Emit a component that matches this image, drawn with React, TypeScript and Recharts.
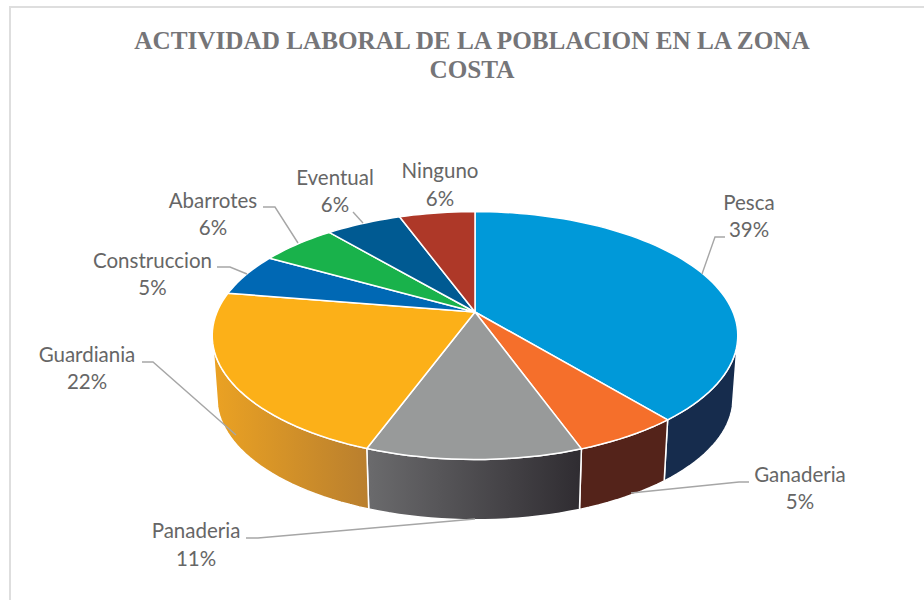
import { PieChart, Pie } from "recharts";

const categories = ["Pesca", "Ganaderia", "Panaderia", "Guardiania", "Construccion", "Abarrotes", "Eventual", "Ninguno"];
const values = [39, 5.5, 11.1, 22, 5.6, 5.6, 5.6, 5.6];
const percentLabels = ["39%", "5%", "11%", "22%", "5%", "6%", "6%", "6%"];
const titleLines = ["ACTIVIDAD LABORAL DE LA POBLACION EN LA ZONA", "COSTA"];

const topColors = ["#0099d9", "#f56f2b", "#989a9a", "#fcb018", "#0068b4", "#19b24b", "#005a92", "#ae3828"];
const wallColors = [
  ["#162c4d", "#162c4d"],
  ["#54231a", "#54231a"],
  ["#6b6b6d", "#2f2c31"],
  ["#eba223", "#b97f2e"],
  ["#00497e", "#00497e"],
  ["#127d35", "#127d35"],
  ["#003f66", "#003f66"],
  ["#7a271c", "#7a271c"],
];

// label placement: text centre, first/second baseline, leader line
const labelLayout = [
  { x: 749, y1: 210, y2: 237, line: "702,274 715,237 725,237" },
  { x: 800, y1: 482, y2: 509, line: "749,482 739,482 631,493" },
  { x: 196, y1: 538, y2: 566, line: "246,538 258,538 475,519" },
  { x: 87, y1: 362, y2: 389, line: "142,362 153,362 236,435" },
  { x: 152.5, y1: 268, y2: 295, line: "217,267 230,267 247,274" },
  { x: 213, y1: 208, y2: 235, line: "263,207 275,207 298,243" },
  { x: 335, y1: 185, y2: 212, line: "353,212 363,223" },
  { x: 440, y1: 178, y2: 206, line: "" },
];

const data = categories.map((name, i) => ({ name, value: values[i] }));

// the 3D look: a circle in perspective, top edge further away than the bottom
const TILT = 0.463;
const PERSP = 0.19;
const DEPTH = 63;
const SHRINK = 0.982;

function rim(cx: number, cy: number, r: number, deg: number, bottom = false) {
  const t = (deg * Math.PI) / 180;
  const w = 1 + PERSP * Math.cos(t);
  const dx = (r * Math.sin(t)) / w;
  const dy = (-r * TILT * Math.cos(t)) / w;
  return bottom
    ? [cx + dx * SHRINK, cy + DEPTH + dy * SHRINK]
    : [cx + dx, cy + dy];
}

function arcPoints(cx: number, cy: number, r: number, from: number, to: number, bottom = false) {
  const n = Math.max(2, Math.ceil(Math.abs(to - from) / 2));
  const pts: number[][] = [];
  for (let i = 0; i <= n; i++) pts.push(rim(cx, cy, r, from + ((to - from) * i) / n, bottom));
  return pts;
}

const toPath = (pts: number[][]) =>
  "M" + pts.map((p) => `${p[0].toFixed(2)},${p[1].toFixed(2)}`).join("L") + "Z";

function TopSlice(props: any) {
  const { cx, cy, outerRadius, startAngle, endAngle, index } = props;
  const pts = [[cx, cy], ...arcPoints(cx, cy, outerRadius, 90 - startAngle, 90 - endAngle)];
  return <path d={toPath(pts)} fill={topColors[index]} stroke="#fff" strokeWidth={1.5} strokeLinejoin="round" />;
}

function WallSlice(props: any) {
  const { cx, cy, outerRadius, startAngle, endAngle, index } = props;
  const from = Math.max(90 - startAngle, 105);
  const to = Math.min(90 - endAngle, 255);
  if (to <= from) return null;
  const top = arcPoints(cx, cy, outerRadius, from, to);
  const bottom = arcPoints(cx, cy, outerRadius, to, from, true);
  const id = `wall-${index}`;
  return (
    <g>
      <defs>
        <linearGradient id={id} x1="0" y1="0" x2="1" y2="0">
          <stop offset="0%" stopColor={wallColors[index][0]} />
          <stop offset="100%" stopColor={wallColors[index][1]} />
        </linearGradient>
      </defs>
      <path d={toPath([...top, ...bottom])} fill={`url(#${id})`} stroke="#fff" strokeWidth={1.5} strokeLinejoin="round" />
    </g>
  );
}

function SliceLabel(props: any) {
  const i = props.index;
  const pos = labelLayout[i];
  const textStyle = { fontFamily: "Lato, sans-serif", fontSize: 20.5, fill: "#666666" };
  return (
    <g>
      {pos.line && <polyline points={pos.line} fill="none" stroke="#a6a6a6" strokeWidth={1.4} />}
      <text x={pos.x} y={pos.y1} textAnchor="middle" style={textStyle}>{categories[i]}</text>
      <text x={pos.x} y={pos.y2} textAnchor="middle" style={textStyle}>{percentLabels[i]}</text>
    </g>
  );
}

export default function App() {
  const titleStyle = { fontFamily: "'Liberation Serif', serif", fontWeight: 700, fontSize: 25.2, fill: "#757578" };
  return (
    <div style={{ position: "absolute", left: 0, top: 0, width: 924, height: 600, background: "#fff", overflow: "hidden" }}>
      <div style={{ position: "absolute", left: 9, top: 6, width: 915, height: 594, borderLeft: "2px solid #dedede", borderTop: "2px solid #dedede" }} />
      <PieChart width={924} height={600} margin={{ top: 0, right: 0, bottom: 0, left: 0 }} style={{ position: "absolute", left: 0, top: 0 }}>
        <text x={472} y={49} textAnchor="middle" style={titleStyle}>{titleLines[0]}</text>
        <text x={472} y={78} textAnchor="middle" style={titleStyle}>{titleLines[1]}</text>
        <Pie
          data={data}
          dataKey="value"
          nameKey="name"
          cx={475}
          cy={312}
          innerRadius={0}
          outerRadius={258}
          startAngle={90}
          endAngle={-270}
          isAnimationActive={false}
          shape={WallSlice}
          labelLine={false}
          label={false}
        />
        <Pie
          data={data}
          dataKey="value"
          nameKey="name"
          cx={475}
          cy={312}
          innerRadius={0}
          outerRadius={258}
          startAngle={90}
          endAngle={-270}
          isAnimationActive={false}
          shape={TopSlice}
          labelLine={false}
          label={SliceLabel}
        />
      </PieChart>
    </div>
  );
}
